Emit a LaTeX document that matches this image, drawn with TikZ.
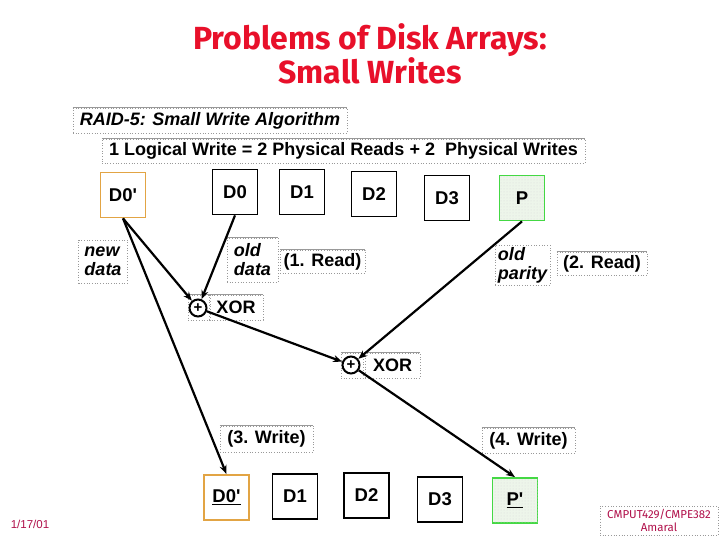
\documentclass[tikz,border=0pt]{standalone}
\usepackage{fontspec}
\setmainfont{Liberation Sans}
\newfontfamily\titlefont{Fira Sans}
\usetikzlibrary{arrows.meta,patterns}
\definecolor{ttl}{HTML}{E8102A}
\definecolor{dorange}{HTML}{E2A444}
\definecolor{pgreen}{HTML}{44D844}
\definecolor{pfill}{HTML}{EDF5EA}
\definecolor{foot}{HTML}{B0104A}
\newcommand{\ap}{\textquotesingle}
\begin{document}
\begin{tikzpicture}[x=1pt,y=-1pt,
  disk/.style={draw=black, line width=1.8pt, minimum width=45pt, minimum height=45pt, inner sep=0pt, font=\fontsize{18.5}{20}\selectfont\bfseries},
  newdisk/.style={disk, draw=dorange},
  pardisk/.style={disk, draw=pgreen, fill=pfill, postaction={pattern=dots, pattern color=gray!30}},
  lbl/.style={draw=gray!80, dotted, line width=0.7pt, inner sep=0pt, font=\fontsize{18}{19}\selectfont\bfseries},
  ilbl/.style={lbl, font=\fontsize{18}{19}\selectfont\bfseries\itshape, align=left},
  xorc/.style={circle, draw=black, line width=2pt, minimum size=17pt, inner sep=0pt, font=\fontsize{15}{15}\selectfont\bfseries},
  arr/.style={line width=2.2pt, -{Stealth[length=9pt,width=7pt]}},
  topline/.style={draw=gray!80, line width=0.7pt}
]
\useasboundingbox (0,0) rectangle (720,540);
% title
\node[text=ttl, font=\fontsize{32}{33}\selectfont\titlefont\bfseries, align=center] (title) at (370,54) {Problems of Disk Arrays:\\Small Writes};
% header boxes
\node[ilbl, minimum width=274pt, minimum height=25pt, align=center] (raid) at (210,120.5) {RAID-5: Small Write Algorithm};
\node[lbl, minimum width=483pt, minimum height=24pt] (logic) at (343.5,151) {1 Logical Write = 2 Physical Reads + 2\ \ Physical Writes};
% top disks
\node[newdisk] (d0p) at (123,195) {D0\ap};
\node[disk] (d0) at (235,192) {D0};
\node[disk] (d1) at (302,192) {D1};
\node[disk] (d2) at (374,194) {D2};
\node[disk] (d3) at (447,198) {D3};
\node[pardisk] (p) at (522,198) {P};
% labels
\node[ilbl, minimum width=49pt, minimum height=43pt] (newdata) at (103,261.5) {new\\data};
\node[ilbl, minimum width=51pt, minimum height=44pt] (olddata) at (252.5,260) {old\\data};
\node[lbl, minimum width=85pt, minimum height=23pt] (read1) at (322.5,261.5) {(1. Read)};
\node[ilbl, minimum width=55pt, minimum height=40pt] (oldpar) at (522.5,265) {old\\parity};
\node[lbl, minimum width=90pt, minimum height=23pt] (read2) at (602,263.5) {(2. Read)};
% xor 1
\node[lbl, minimum width=22pt, minimum height=25pt] (x1box) at (199,307.5) {};
\node[xorc] (x1) at (198,308) {+};
\node[lbl, minimum width=54pt, minimum height=25pt] (x1t) at (236,307.5) {XOR};
% xor 2
\node[lbl, minimum width=22pt, minimum height=25pt] (x2box) at (352,365.5) {};
\node[xorc] (x2) at (351,365) {+};
\node[lbl, minimum width=55pt, minimum height=25pt] (x2t) at (392.5,365.5) {XOR};
% writes
\node[lbl, minimum width=93pt, minimum height=26pt] (w3) at (266.5,439) {(3. Write)};
\node[lbl, minimum width=93pt, minimum height=25pt] (w4) at (528.5,440.5) {(4. Write)};
% bottom disks
\node[newdisk] (bd0p) at (226.5,497.5) {\underline{D0\ap}};
\node[disk] (bd1) at (295,496.5) {D1};
\node[disk] (bd2) at (366.5,495.5) {D2};
\node[disk] (bd3) at (440,499.5) {D3};
\node[pardisk] (bp) at (515,500.5) {\underline{P\ap}};
% solid top edges of text boxes
\foreach \n in {raid,logic,olddata,read1,read2,x1t,x2t,x1box,x2box,w3,w4}
  \draw[topline] (\n.north west) -- (\n.north east);
% footer
\node[lbl, minimum width=118pt, minimum height=29pt, text=foot, font=\fontsize{11.5}{13}\selectfont\titlefont, align=center] (cmput) at (659,520.5) {CMPUT429/CMPE382\\Amaral};
\node[text=foot, font=\fontsize{11.5}{13}\selectfont] (date) at (30,524) {1/17/01};
% connectors
\draw[arr] (d0p.south) -- (x1);
\draw[arr] (d0p.south) -- (bd0p.north);
\draw[arr] (d0.south) -- (x1);
\draw[arr] (p.south) -- (x2);
\draw[arr] (x1) -- (x2);
\draw[arr] (x2) -- (bp.north);
\end{tikzpicture}
\end{document}
